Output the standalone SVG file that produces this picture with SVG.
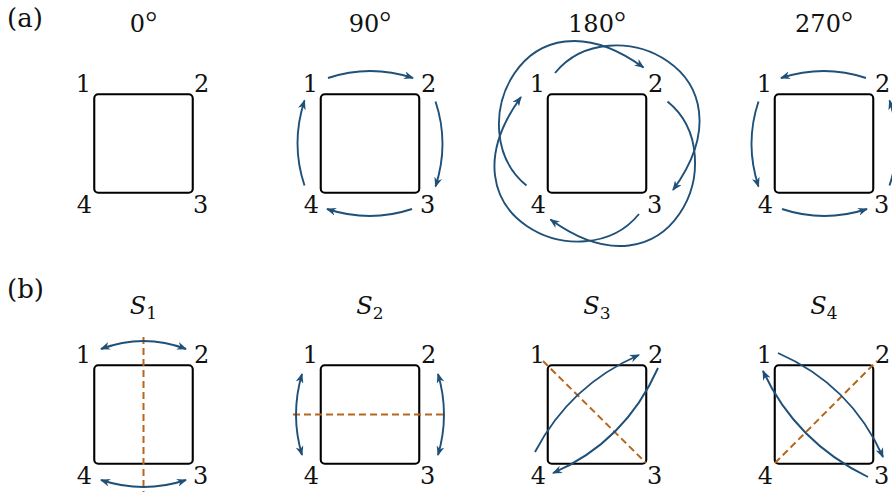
<svg xmlns="http://www.w3.org/2000/svg" width="892" height="492" viewBox="0 0 892 492">
<style>
text{font-family:"DejaVu Serif","Liberation Serif",serif;font-size:24px;fill:#111}
.sq{fill:none;stroke:#000;stroke-width:2.1}
.ar{fill:none;stroke:#1f5078;stroke-width:1.9;marker-end:url(#ah)}
.dd{fill:none;stroke:#1f5078;stroke-width:1.9;marker-start:url(#ah);marker-end:url(#ah)}
.ax{fill:none;stroke:#b8661c;stroke-width:2;stroke-dasharray:7 4}
.e{text-anchor:end}
.m{text-anchor:middle}
.it{font-style:italic}
.sub{font-style:normal;font-size:17px}
.deg{font-family:"Liberation Serif",serif;font-size:30px}
.lab{font-size:26px}
</style>
<defs>
<marker id="ah" viewBox="0 0 10 8" markerUnits="userSpaceOnUse" markerWidth="10" markerHeight="8" refX="9" refY="4" orient="auto-start-reverse">
<path d="M0,0 L10,4 L0,8 L3,4 Z" fill="#1f5078"/>
</marker>
<path id="q90" d="M-42,-65.5 Q0,-79.5 43,-65.5"/>
<path id="q270" d="M42,-65.5 Q0,-79.5 -43,-65.5"/>
<path id="q180" d="M-42,-70.5 C13,-138.5 163,-73.5 76,46.5"/>
</defs>

<text class="lab" x="7" y="27">(a)</text>
<text class="lab" x="7" y="298">(b)</text>

<g id="title-0"><text class="m" x="143.5" y="32">0<tspan class="deg">°</tspan></text></g>
<g id="title-90"><text class="m" x="370" y="32">90<tspan class="deg">°</tspan></text></g>
<g id="title-180"><text class="m" x="597" y="32">180<tspan class="deg">°</tspan></text></g>
<g id="title-270"><text class="m" x="824" y="32">270<tspan class="deg">°</tspan></text></g>

<g id="title-s1"><text class="m it" x="143.5" y="314">S<tspan class="sub" dy="5">1</tspan></text></g>
<g id="title-s2"><text class="m it" x="370" y="314">S<tspan class="sub" dy="5">2</tspan></text></g>
<g id="title-s3"><text class="m it" x="597" y="314">S<tspan class="sub" dy="5">3</tspan></text></g>
<g id="title-s4"><text class="m it" x="824" y="314">S<tspan class="sub" dy="5">4</tspan></text></g>

<g id="panel-0">
<rect class="sq" x="94.25" y="94.25" width="98.5" height="98.5" rx="4"/>
<text class="e" x="91" y="92">1</text><text x="194" y="92">2</text>
<text class="e" x="92" y="213">4</text><text x="193" y="213">3</text>
</g>
<g id="panel-90">
<rect class="sq" x="320.75" y="94.25" width="98.5" height="98.5" rx="4"/>
<text class="e" x="318" y="92">1</text><text x="421" y="92">2</text>
<text class="e" x="319" y="213">4</text><text x="420" y="213">3</text>
</g>
<g id="panel-180">
<rect class="sq" x="547.75" y="94.25" width="98.5" height="98.5" rx="4"/>
<text class="e" x="545" y="92">1</text><text x="648" y="92">2</text>
<text class="e" x="546" y="213">4</text><text x="647" y="213">3</text>
</g>
<g id="panel-270">
<rect class="sq" x="774.75" y="94.25" width="98.5" height="98.5" rx="4"/>
<text class="e" x="772" y="92">1</text><text x="875" y="92">2</text>
<text class="e" x="773" y="213">4</text><text x="874" y="213">3</text>
</g>

<g id="panel-s1">
<rect class="sq" x="94.25" y="365.25" width="98.5" height="98.5" rx="4"/>
<text class="e" x="91" y="363">1</text><text x="194" y="363">2</text>
<text class="e" x="92" y="484">4</text><text x="193" y="484">3</text>
</g>
<g id="panel-s2">
<rect class="sq" x="320.75" y="365.25" width="98.5" height="98.5" rx="4"/>
<text class="e" x="318" y="363">1</text><text x="421" y="363">2</text>
<text class="e" x="319" y="484">4</text><text x="420" y="484">3</text>
</g>
<g id="panel-s3">
<rect class="sq" x="547.75" y="365.25" width="98.5" height="98.5" rx="4"/>
<text class="e" x="545" y="363">1</text><text x="648" y="363">2</text>
<text class="e" x="546" y="484">4</text><text x="647" y="484">3</text>
</g>
<g id="panel-s4">
<rect class="sq" x="774.75" y="365.25" width="98.5" height="98.5" rx="4"/>
<text class="e" x="772" y="363">1</text><text x="875" y="363">2</text>
<text class="e" x="773" y="484">4</text><text x="874" y="484">3</text>
</g>

<g id="connectors">
<g transform="translate(370,143.5)">
<use href="#q90" class="ar"/>
<use href="#q90" class="ar" transform="rotate(90)"/>
<use href="#q90" class="ar" transform="rotate(180)"/>
<use href="#q90" class="ar" transform="rotate(270)"/>
</g>
<g transform="translate(597,143.5)">
<use href="#q180" class="ar"/>
<use href="#q180" class="ar" transform="rotate(90)"/>
<use href="#q180" class="ar" transform="rotate(180)"/>
<use href="#q180" class="ar" transform="rotate(270)"/>
</g>
<g transform="translate(824,143.5)">
<use href="#q270" class="ar"/>
<use href="#q270" class="ar" transform="rotate(90)"/>
<use href="#q270" class="ar" transform="rotate(180)"/>
<use href="#q270" class="ar" transform="rotate(270)"/>
</g>

<line class="ax" x1="143.5" y1="337" x2="143.5" y2="492"/>
<path class="dd" d="M101,349 Q143.5,333 186,349"/>
<path class="dd" d="M101,480 Q143.5,494 186,480"/>

<line class="ax" x1="293" y1="414.5" x2="447" y2="414.5"/>
<path class="dd" d="M302,374 Q290,414.5 302,455"/>
<path class="dd" d="M438,374 Q450,414.5 438,455"/>

<line class="ax" x1="543" y1="361" x2="646" y2="463"/>
<path class="ar" d="M535,452 Q570,385 639,355"/>
<path class="ar" d="M658,368 Q625,442 553,473"/>

<line class="ax" x1="775" y1="463" x2="877" y2="361"/>
<path class="ar" d="M778,353 Q851,385 883,457"/>
<path class="ar" d="M868,477 Q796,442 763,371"/>
</g>
</svg>
